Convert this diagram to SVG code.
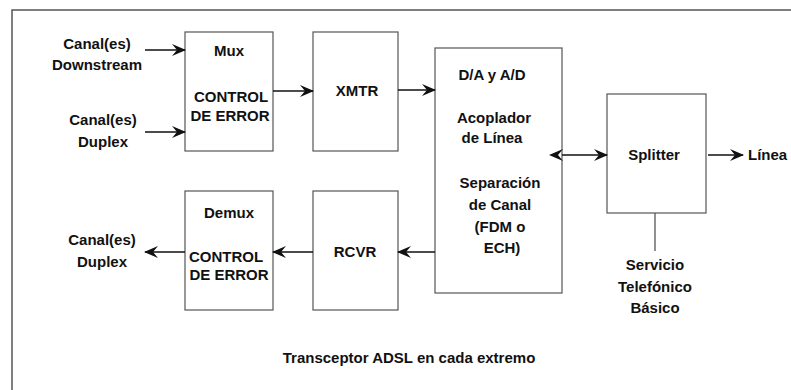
<svg xmlns="http://www.w3.org/2000/svg" width="791" height="390" viewBox="0 0 791 390">
<defs>
<style>
.box{fill:#fff;stroke:#555;stroke-width:1.2}
.frame{fill:none;stroke:#555;stroke-width:1.5}
.ln{stroke:#111;stroke-width:1.3;fill:none}
.t{font-family:"Liberation Sans",Arial,sans-serif;font-weight:bold;font-size:15px;fill:#111;text-anchor:middle}
.ts{text-anchor:start}
</style>
<marker id="ah" viewBox="0 0 14 12" refX="13" refY="6" markerWidth="14" markerHeight="12" markerUnits="userSpaceOnUse" orient="auto">
<path d="M0,0 L14,6 L0,12 L5,6 z" fill="#111"/>
</marker>
<marker id="ahs" viewBox="0 0 14 12" refX="1" refY="6" markerWidth="14" markerHeight="12" markerUnits="userSpaceOnUse" orient="auto-start-reverse">
<path d="M0,0 L14,6 L0,12 L5,6 z" fill="#111"/>
</marker>
</defs>
<rect x="0" y="0" width="791" height="390" fill="#fff"/>
<path class="frame" d="M12,400 L12,10 L800,10"/>

<g id="mux">
<rect class="box" x="185" y="32" width="88" height="119"/>
<text class="t" x="229" y="56">Mux</text>
<text class="t" x="231" y="102">CONTROL</text>
<text class="t" x="230" y="121">DE ERROR</text>
</g>
<g id="xmtr">
<rect class="box" x="313" y="32" width="85" height="119"/>
<text class="t" x="357" y="96">XMTR</text>
</g>
<g id="demux">
<rect class="box" x="185" y="191" width="88" height="119"/>
<text class="t" x="229" y="218">Demux</text>
<text class="t" x="226" y="262">CONTROL</text>
<text class="t" x="229" y="280">DE ERROR</text>
</g>
<g id="rcvr">
<rect class="box" x="313" y="191" width="85" height="119"/>
<text class="t" x="355" y="257">RCVR</text>
</g>
<g id="dac">
<rect class="box" x="435" y="48" width="127" height="245"/>
<text class="t" x="492" y="80">D/A y A/D</text>
<text class="t" x="494" y="123">Acoplador</text>
<text class="t" x="492" y="143">de Línea</text>
<text class="t" x="500" y="188">Separación</text>
<text class="t" x="500" y="210">de Canal</text>
<text class="t" x="500" y="232">(FDM o</text>
<text class="t" x="502" y="253">ECH)</text>
</g>
<g id="splitter">
<rect class="box" x="607" y="94" width="99" height="119"/>
<text class="t" x="654" y="160">Splitter</text>
</g>
<g id="labels">
<text class="t" x="97" y="49">Canal(es)</text>
<text class="t" x="97" y="70">Downstream</text>
<text class="t" x="103" y="125">Canal(es)</text>
<text class="t" x="103" y="147">Duplex</text>
<text class="t" x="102" y="245">Canal(es)</text>
<text class="t" x="102" y="267">Duplex</text>
<text class="t ts" x="748" y="160">Línea</text>
<text class="t" x="655" y="270">Servicio</text>
<text class="t" x="655" y="292">Telefónico</text>
<text class="t" x="655" y="313">Básico</text>
<text class="t" x="409" y="363">Transceptor ADSL en cada extremo</text>
</g>
<g id="connectors">
<line class="ln" x1="145" y1="50" x2="185" y2="50" marker-end="url(#ah)"/>
<line class="ln" x1="145" y1="132" x2="185" y2="132" marker-end="url(#ah)"/>
<line class="ln" x1="273" y1="91" x2="313" y2="91" marker-end="url(#ah)"/>
<line class="ln" x1="398" y1="90" x2="435" y2="90" marker-end="url(#ah)"/>
<line class="ln" x1="562" y1="155" x2="607" y2="155" marker-start="url(#ahs)" marker-end="url(#ah)"/>
<line class="ln" x1="708" y1="155" x2="743" y2="155" marker-end="url(#ah)"/>
<line class="ln" x1="435" y1="252" x2="398" y2="252" marker-end="url(#ah)"/>
<line class="ln" x1="313" y1="252" x2="273" y2="252" marker-end="url(#ah)"/>
<line class="ln" x1="185" y1="252" x2="145" y2="252" marker-end="url(#ah)"/>
<line class="ln" x1="655" y1="213" x2="655" y2="251" style="stroke:#555"/>
</g>
</svg>
